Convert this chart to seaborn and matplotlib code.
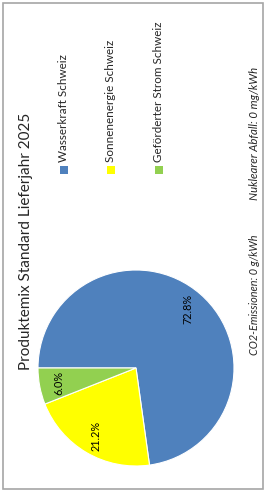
import matplotlib
matplotlib.use("Agg")
import matplotlib.pyplot as plt
from matplotlib.patches import Rectangle
import seaborn as sns

# data
categories = ['Wasserkraft Schweiz', 'Sonnenenergie Schweiz', 'Geförderter Strom Schweiz']
shares = [72.8, 21.2, 6.0]
colors = ['#4F81BD', '#FFFF00', '#92D050']
title = 'Produktemix Standard Lieferjahr 2025'
note_co2 = 'CO2-Emissionen: 0 g/kWh'
note_nuc = 'Nuklearer Abfall: 0 mg/kWh'

sns.set_theme(style="white")
plt.rcParams['font.family'] = ['Lato', 'DejaVu Sans']

W, H = 265, 493
fig = plt.figure(figsize=(W / 100, H / 100), dpi=100)

def fx(x):
    return x / W

def fy(y):
    return 1 - y / H

# frame round the chart
fig.patches.append(Rectangle((fx(3), fy(489)), fx(260), (486) / H, transform=fig.transFigure,
                             fill=False, edgecolor='#a6a6a6', linewidth=1.2))

# pie, drawn in the rotated frame
cx, cy, r = 136, 368, 98
ax = fig.add_axes([fx(cx - r), fy(cy + r), 2 * r / W, 2 * r / H])
pal = sns.color_palette(colors)
wedges, texts, autotexts = ax.pie(shares, colors=pal, startangle=180, counterclock=False,
                                  autopct='%1.1f%%', pctdistance=0.8,
                                  wedgeprops=dict(edgecolor='white', linewidth=0.8),
                                  textprops=dict(fontsize=7.8, color='black'))
for t in autotexts:
    t.set_rotation(90)
    t.set_ha('center')
    t.set_va('center')
ax.set_xlim(-1, 1)
ax.set_ylim(-1, 1)
ax.set_aspect('equal')
ax.axis('off')

# title
fig.text(fx(26), fy(241), title, rotation=90, ha='center', va='center', fontsize=11)

# legend
leg_x = [64, 111, 159]
for name, c, x in zip(categories, pal, leg_x):
    fig.patches.append(Rectangle((fx(x - 4), fy(174)), 8 / W, 8 / H, transform=fig.transFigure,
                                 facecolor=c, edgecolor='none'))
    fig.text(fx(x - 0.5), fy(162), name, rotation=90, ha='center', va='bottom', fontsize=8.4)

# notes
fig.text(fx(255), fy(295), note_co2, rotation=90, ha='center', va='center', fontsize=7.8, style='italic')
fig.text(fx(255), fy(133), note_nuc, rotation=90, ha='center', va='center', fontsize=8.2, style='italic')

fig.savefig('out.png', dpi=100)
